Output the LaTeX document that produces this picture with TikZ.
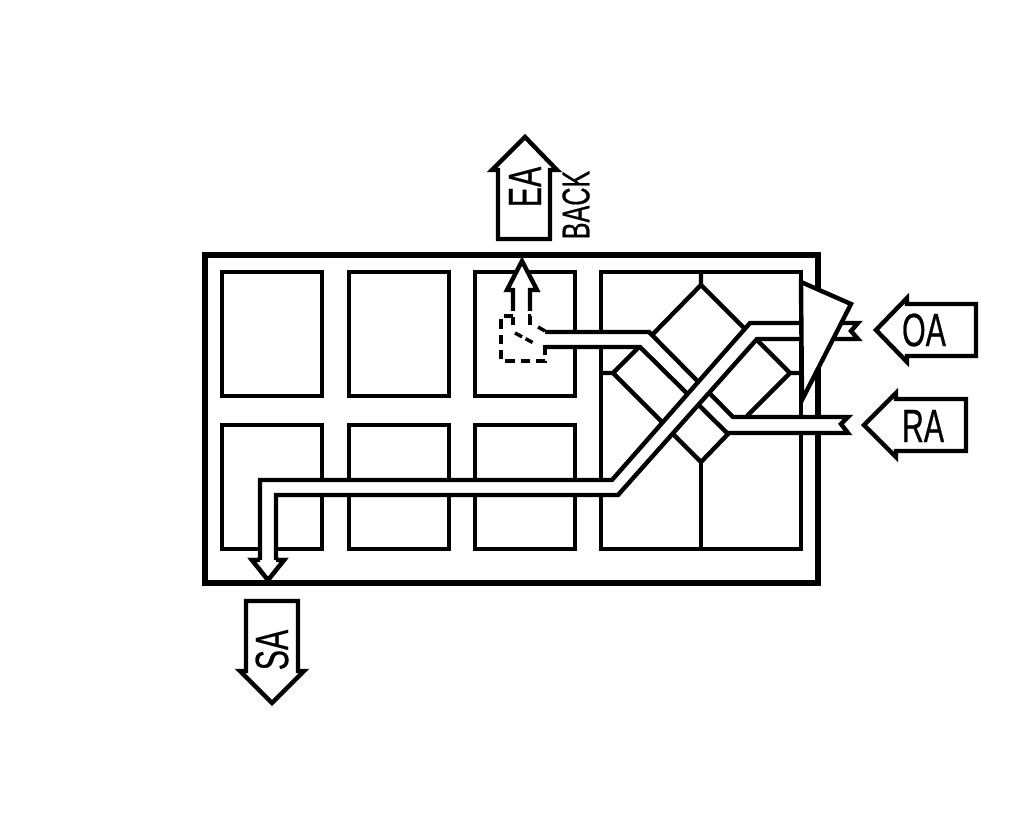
\documentclass[tikz,border=0pt]{standalone}
\usepackage{fontspec}
\setmainfont[FakeStretch=0.65,FakeBold=0.5]{Liberation Sans}
\tikzset{
  casing/.style={line width=4pt},
  cell/.style={line width=3.3pt},
  duct/.style={line width=3.3pt,miter limit=10},
  tag/.style={line width=3.3pt,fill=white},
  hidden/.style={line width=2.6pt,dash pattern=on 7pt off 4.5pt},
  bigtext/.style={font=\fontsize{35}{35}\selectfont,inner sep=0pt},
  smalltext/.style={font=\fontsize{29}{29}\selectfont,inner sep=0pt}
}
\begin{document}
\begin{tikzpicture}
  [x=.75pt,y=-.75pt]
\useasboundingbox (0,0) rectangle (1022,838);

 % unit casing and compartments
\draw[casing] (205,255) rectangle (818,583);
\foreach \x in {222,349,475}
  {\draw[cell] (\x,272) rectangle +(100,124);
   \draw[cell] (\x,425) rectangle +(100,124);}
\draw[cell] (601,272) rectangle (801,549);

 % heat exchanger
\draw[cell] (701,272) -- (701,285) -- (652,335);
\draw[cell] (701,285) -- (746,330);
\draw[cell] (601,373) -- (613,373) -- (640,346);
\draw[cell] (613,373) -- (663,423);
\draw[cell] (801,373) -- (790,373) -- (757,340);
\draw[cell] (790,373) -- (747,416);
\draw[cell] (672,433) -- (701,462) -- (729,433);
\draw[cell] (701,462) -- (701,549);

 % exhaust/return duct
\fill[white] (543,333) -- (649,333) -- (733,417) -- (848,417) -- (841,424)
  -- (848,433) -- (727,433) -- (640,347) -- (543,347) -- cycle;
\draw[duct] (545,332) -- (649,332) -- (733,417) -- (848,417) -- (841,424) -- (848,433)
  -- (727,433) -- (640,347) -- (545,347);

 % damper
\draw[hidden] (513,316) -- (501,316) -- (501,361) -- (545,361) -- (545,344);
\draw[hidden,dash pattern=on 7pt off 30pt] (530,325) -- (530,316) -- (545,316) -- (545,325);
\draw[hidden,dash pattern=on 6pt off 100pt] (513,317) -- (513,325);
\draw[hidden,dash pattern=on 6pt off 3pt on 6pt off 100pt] (515,333) -- (541,347);
\draw[hidden,dash pattern=on 6pt off 100pt] (538,327) -- (545,331);

 % supply duct
\fill[white] (261,560) -- (261,480) -- (612,480) -- (750,323) -- (858,323) -- (851,331)
  -- (858,339) -- (757,339) -- (618,495) -- (276,495) -- (276,560) -- cycle;
\draw[duct] (858,323) -- (750,323) -- (612,480) -- (260,480) -- (260,560) -- (252,560)
  -- (268,580) -- (284,560) -- (276,560) -- (276,495) -- (618,495) -- (757,339)
  -- (858,339) -- (851,331) -- cycle;
\fill[white] (252,560) -- (268,580) -- (284,560) -- cycle;
\draw[duct] (260,560) -- (252,560) -- (268,580) -- (284,560) -- (276,560);

 % exhaust arrow in the casing
\draw[duct,fill=white] (513,311) -- (513,290) -- (507,290) -- (522,261) -- (537,290)
  -- (530,290) -- (530,311);

 % outside air damper
\draw[cell,fill=white] (801,282) -- (851,304) -- (802,400) -- cycle;

 % labels
\draw[tag] (498,239) -- (498,170) -- (492,170) -- (525,137) -- (557,170) -- (550,170)
  -- (550,239) -- cycle;
\node (ea)[bigtext,rotate=90] at (525,187) {EA};
\node (back)[smalltext,rotate=90] at (576,205) {BACK};
\draw[tag] (876,330) -- (907,298) -- (907,304) -- (976,304) -- (976,356) -- (907,356)
  -- (907,362) -- cycle;
\node (oa)[bigtext] at (924,330) {OA};
\draw[tag] (864,425) -- (896,393) -- (896,399) -- (966,399) -- (966,451) -- (896,451)
  -- (896,457) -- cycle;
\node (ra)[bigtext] at (923,426) {RA};
\draw[tag] (246,601) -- (298,601) -- (298,671) -- (304,671) -- (272,703) -- (240,671)
  -- (246,671) -- cycle;
\node (sa)[bigtext,rotate=90] at (272,650) {SA};
\end{tikzpicture}
\end{document}
